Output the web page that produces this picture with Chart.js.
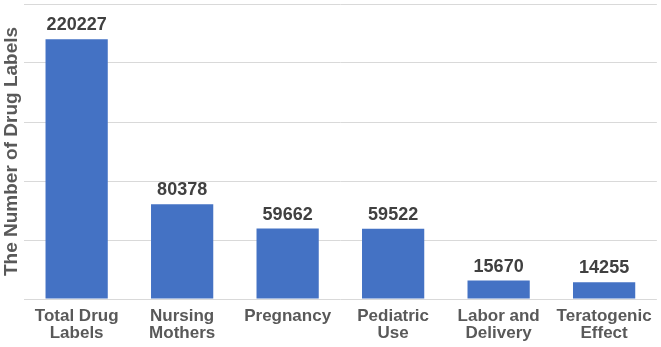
<!DOCTYPE html>
<html>
<head>
<meta charset="utf-8">
<script src="https://cdn.jsdelivr.net/npm/chart.js@4"></script>
<style>
  html, body { margin: 0; padding: 0; background: #fff; }
  #wrap { width: 661px; height: 347px; }
</style>
</head>
<body>
<div id="wrap"><canvas id="myChart" width="661" height="347"></canvas></div>
<script>
// categories and values
const categories = [
  ['Total Drug', 'Labels'],
  ['Nursing', 'Mothers'],
  'Pregnancy',
  ['Pediatric', 'Use'],
  ['Labor and', 'Delivery'],
  ['Teratogenic', 'Effect']
];
const labelCounts = [220227, 80378, 59662, 59522, 15670, 14255];
const yMax = 250000;
const yStep = 50000;

const fontFamily = '"Liberation Sans", Arial, Helvetica, sans-serif';

// draw the value on top of each bar
const valueLabels = {
  id: 'valueLabels',
  afterDatasetsDraw(chart) {
    const ctx = chart.ctx;
    const meta = chart.getDatasetMeta(0);
    ctx.save();
    ctx.font = 'bold 18px ' + fontFamily;
    ctx.fillStyle = '#404040';
    ctx.textAlign = 'center';
    ctx.textBaseline = 'alphabetic';
    meta.data.forEach((bar, i) => {
      ctx.fillText(String(labelCounts[i]), bar.x, bar.y - 9);
    });
    ctx.restore();
  }
};

const data = {
  labels: categories,
  datasets: [{
    label: 'Drug labels',
    backgroundColor: '#4472C4',
    borderWidth: 0,
    data: labelCounts,
    barPercentage: 0.59,
    categoryPercentage: 1
  }]
};

const config = {
  type: 'bar',
  data,
  options: {
    responsive: false,
    animation: false,
    layout: { padding: { top: 4, right: 4, left: 1, bottom: -4 } },
    plugins: {
      legend: { display: false },
      tooltip: { enabled: false }
    },
    scales: {
      x: {
        grid: { display: false, drawTicks: false },
        border: { display: false },
        ticks: {
          color: '#595959',
          font: { family: fontFamily, size: 17, weight: 'bold', lineHeight: 1.0 },
          maxRotation: 0,
          autoSkip: false,
          padding: 9
        }
      },
      y: {
        min: 0,
        max: yMax,
        border: { display: false },
        grid: { color: '#d9d9d9', lineWidth: 1, drawTicks: false },
        ticks: { display: false, stepSize: yStep },
        title: {
          display: true,
          text: 'The Number of Drug Labels',
          color: '#595959',
          font: { family: fontFamily, size: 19, weight: 'bold', lineHeight: 1.1 },
          padding: { top: 0, bottom: 2 }
        }
      }
    }
  },
  plugins: [valueLabels]
};

new Chart(document.getElementById('myChart'), config);
</script>
</body>
</html>
